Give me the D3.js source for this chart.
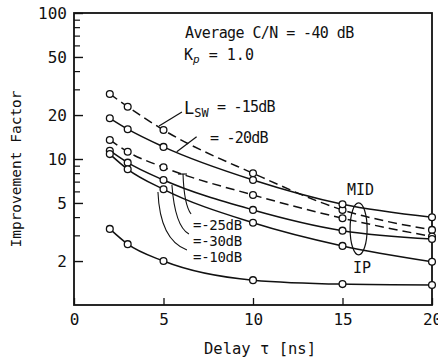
<!DOCTYPE html>
<html>
<head>
<meta charset="utf-8">
<script src="https://cdn.jsdelivr.net/npm/d3@7"></script>
<style>
	body { margin: 0; background: #fff; }
	svg text { font-family: "DejaVu Sans Mono", monospace; fill: #111; }
	.axis path, .axis line { stroke: #111; }
	.axis text { font-size: 16px; }
</style>
</head>
<body>
<div id="graphic"></div>
<script>
// delay values (ns) where each curve was computed
const delays = [2, 3, 5, 10, 15, 20];

// improvement factor for each curve, top to bottom at delay 2 ns
const midMinus15 = [27.9, 22.8, 15.8, 7.98, 4.48, 3.27];
const ipMinus20 = [19.0, 16.0, 12.1, 7.18, 4.90, 3.99];
const midMinus25 = [13.5, 11.2, 8.77, 5.67, 3.93, 2.94];
const ipMinus30 = [11.4, 9.44, 7.18, 4.48, 3.23, 2.83];
const ipMinus10 = [10.8, 8.50, 6.20, 3.66, 2.54, 1.98];
const ipLowest = [3.32, 2.61, 2.00, 1.48, 1.39, 1.37];

const seriesList = [
	{ name: 'MID -15dB', values: midMinus15, dashed: true },
	{ name: 'IP -20dB', values: ipMinus20, dashed: false },
	{ name: 'MID -25dB', values: midMinus25, dashed: true },
	{ name: 'IP -30dB', values: ipMinus30, dashed: false },
	{ name: 'IP -10dB', values: ipMinus10, dashed: false },
	{ name: 'IP low', values: ipLowest, dashed: false }
];

// axis ticks
const xTicks = [0, 5, 10, 15, 20];
const yMajorTicks = [2, 5, 10, 20, 50, 100];
const yMinorTicks = [3, 4, 6, 7, 8, 9, 30, 40, 60, 70, 80, 90];

const width = 438, height = 360;
const margin = { top: 13, right: 6, bottom: 55, left: 74 };

const svg = d3.select('#graphic').append('svg')
	.attr('width', width)
	.attr('height', height);

const x = d3.scaleLinear().domain([0, 20]).range([margin.left, width - margin.right]);
const y = d3.scaleLog().domain([1, 100]).range([height - margin.bottom, margin.top]);

// frame
svg.append('rect')
	.attr('x', x(0)).attr('y', y(100))
	.attr('width', x(20) - x(0)).attr('height', y(1) - y(100))
	.attr('fill', 'none').attr('stroke', '#111').attr('stroke-width', 1.8);

// y axis, ticks point inward
svg.append('g')
	.attr('class', 'axis')
	.attr('transform', `translate(${x(0)},0)`)
	.call(d3.axisLeft(y).tickValues(yMajorTicks).tickFormat(d3.format('d'))
		.tickSize(-9).tickSizeOuter(0).tickPadding(7))
	.call(g => g.select('.domain').remove())
	.call(g => g.selectAll('line').attr('stroke-width', 1.4));

svg.append('g')
	.attr('class', 'axis')
	.attr('transform', `translate(${x(0)},0)`)
	.call(d3.axisLeft(y).tickValues(yMinorTicks).tickFormat('')
		.tickSize(-6).tickSizeOuter(0))
	.call(g => g.select('.domain').remove())
	.call(g => g.selectAll('line').attr('stroke-width', 1.2));

// x axis
svg.append('g')
	.attr('class', 'axis')
	.attr('transform', `translate(0,${y(1)})`)
	.call(d3.axisBottom(x).tickValues(xTicks).tickFormat(d3.format('d'))
		.tickSize(-7).tickSizeOuter(0).tickPadding(9))
	.call(g => g.select('.domain').remove())
	.call(g => g.selectAll('line').attr('stroke-width', 1.3));

// curves
const line = d3.line()
	.x((d, i) => x(delays[i]))
	.y(d => y(d))
	.curve(d3.curveMonotoneX);

svg.append('g')
	.selectAll('path')
	.data(seriesList)
	.join('path')
	.attr('d', d => line(d.values))
	.attr('fill', 'none')
	.attr('stroke', '#111')
	.attr('stroke-width', 1.5)
	.attr('stroke-dasharray', d => d.dashed ? '9,5' : null);

// circle markers
seriesList.forEach(s => {
	svg.append('g')
		.selectAll('circle')
		.data(s.values)
		.join('circle')
		.attr('cx', (d, i) => x(delays[i]))
		.attr('cy', d => y(d))
		.attr('r', 3.4)
		.attr('fill', '#fff')
		.attr('stroke', '#111')
		.attr('stroke-width', 1.3);
});

// leader lines, in data units [delay, factor]
const straightLeaders = [
	[[6.03, 21.0], [4.75, 16.8]],
	[[6.85, 14.2], [5.74, 11.2]],
	[[5.81, 7.89], [6.31, 7.89]]
];
const curvedLeaders = [
	[[4.69, 5.94], [4.80, 2.79], [6.31, 2.38]],
	[[5.47, 6.64], [5.64, 3.47], [6.42, 3.06]],
	[[6.09, 7.89], [6.15, 4.84], [6.54, 4.20]]
];

svg.append('g')
	.selectAll('line')
	.data(straightLeaders)
	.join('line')
	.attr('x1', d => x(d[0][0])).attr('y1', d => y(d[0][1]))
	.attr('x2', d => x(d[1][0])).attr('y2', d => y(d[1][1]))
	.attr('stroke', '#111').attr('stroke-width', 1.2);

svg.append('g')
	.selectAll('path')
	.data(curvedLeaders)
	.join('path')
	.attr('d', d => {
		const p = d3.path();
		p.moveTo(x(d[0][0]), y(d[0][1]));
		p.quadraticCurveTo(x(d[1][0]), y(d[1][1]), x(d[2][0]), y(d[2][1]));
		return p.toString();
	})
	.attr('fill', 'none').attr('stroke', '#111').attr('stroke-width', 1.1);

// MID / IP grouping loop
svg.append('ellipse')
	.attr('cx', x(15.9)).attr('cy', y(3.32))
	.attr('rx', 8.5).attr('ry', 26)
	.attr('fill', 'none').attr('stroke', '#111').attr('stroke-width', 1.2);

// text labels
const labels = svg.append('g').style('font-size', '15px');

labels.append('text')
	.attr('x', x(6.2)).attr('y', y(67.9))
	.style('letter-spacing', '-0.6px')
	.text('Average C/N = -40 dB');

const kp = labels.append('text').attr('x', x(6.15)).attr('y', y(47.7));
kp.append('tspan').text('K');
kp.append('tspan').attr('dy', 3).style('font-size', '11px').style('font-style', 'italic').text('p');
kp.append('tspan').attr('dy', -3).text(' = 1.0');

const lsw = labels.append('text').attr('x', x(6.15)).attr('y', y(20.3));
lsw.append('tspan').style('font-size', '17px').text('L');
lsw.append('tspan').attr('dy', 3).style('font-size', '12px').text('SW');
lsw.append('tspan').attr('dy', -5).style('letter-spacing', '-0.8px').text(' = -15dB');

labels.append('text')
	.attr('x', x(7.6)).attr('y', y(12.9))
	.style('letter-spacing', '-0.8px')
	.text('= -20dB');

const sideLabels = [
	{ text: '=-25dB', v: 3.27 },
	{ text: '=-30dB', v: 2.54 },
	{ text: '=-10dB', v: 1.98 }
];
labels.selectAll('.side')
	.data(sideLabels)
	.join('text')
	.attr('class', 'side')
	.attr('x', x(6.65)).attr('y', d => y(d.v))
	.style('font-size', '14px')
	.style('letter-spacing', '-0.3px')
	.text(d => d.text);

labels.append('text').attr('x', x(15.25)).attr('y', y(5.66)).text('MID');
labels.append('text').attr('x', x(15.59)).attr('y', y(1.66)).text('IP');

// axis titles
svg.append('text')
	.attr('transform', `translate(21,${(y(1) + y(100)) / 2 + 10}) rotate(-90)`)
	.attr('text-anchor', 'middle')
	.style('font-size', '14.5px')
	.text('Improvement Factor');

svg.append('text')
	.attr('x', 260).attr('y', 354)
	.attr('text-anchor', 'middle')
	.style('font-size', '15.5px')
	.text('Delay τ [ns]');
</script>
</body>
</html>
